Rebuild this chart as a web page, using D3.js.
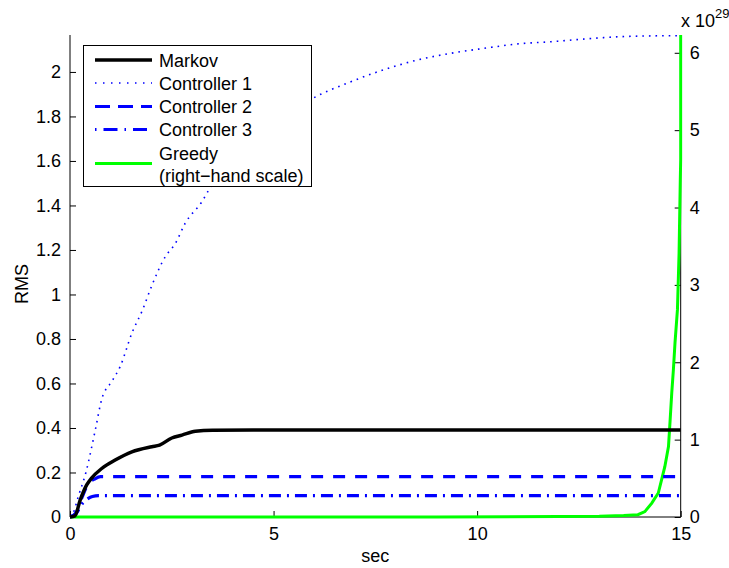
<!DOCTYPE html>
<html>
<head>
<meta charset="utf-8">
<script src="https://cdn.jsdelivr.net/npm/d3@7"></script>
<style>
  body { margin: 0; background: #fff; }
  text { font-family: "Liberation Sans", Arial, Helvetica, sans-serif; fill: #000; }
</style>
</head>
<body>
<div id="chart"></div>
<script>
// series (time in sec, RMS on left scale, greedy on right scale x 10^29)
const markovT = [0, 0.12, 0.25, 0.41, 0.53, 0.78, 1.11, 1.52, 2.01, 2.2, 2.5, 2.75, 3.08, 3.5, 4.5, 15];
const markovV = [0, 0.005, 0.076, 0.144, 0.175, 0.218, 0.256, 0.293, 0.316, 0.323, 0.355, 0.368, 0.385, 0.39, 0.391, 0.391];

const ctrl1T = [0, 0.08, 0.2, 0.39, 0.62, 0.78, 1.03, 1.23, 1.52, 1.78, 2.01, 2.34, 2.59, 2.83, 3.24, 3.41, 5.95, 6.9, 7.71, 8.54, 9.36, 10.17, 11.0, 11.82, 12.64, 13.46, 14.29, 15];
const ctrl1V = [0, 0.018, 0.09, 0.2, 0.39, 0.53, 0.61, 0.675, 0.826, 0.93, 1.04, 1.17, 1.23, 1.32, 1.417, 1.47, 1.88, 1.956, 2.01, 2.054, 2.084, 2.106, 2.126, 2.136, 2.148, 2.158, 2.162, 2.163];

const ctrl2T = [0, 0.15, 0.3, 0.45, 0.6, 0.75, 15];
const ctrl2V = [0, 0.02, 0.09, 0.15, 0.17, 0.181, 0.181];

const ctrl3T = [0, 0.15, 0.3, 0.45, 0.55, 0.7, 15];
const ctrl3V = [0, 0.015, 0.06, 0.084, 0.092, 0.096, 0.096];

const greedyT = [0, 9, 12, 13, 13.6, 13.95, 14.12, 14.29, 14.45, 14.53, 14.61, 14.7, 14.74, 14.78, 14.82, 14.86, 14.92, 14.96, 14.99, 15, 15];
const greedyV = [0, 0, 0.005, 0.01, 0.02, 0.03, 0.07, 0.18, 0.31, 0.48, 0.65, 0.91, 1.25, 1.6, 1.9, 2.25, 2.68, 3.41, 4.36, 4.62, 6.3];

// ticks
const xTicks = [0, 5, 10, 15];
const yTicks = [0, 0.2, 0.4, 0.6, 0.8, 1, 1.2, 1.4, 1.6, 1.8, 2];
const y2Ticks = [0, 1, 2, 3, 4, 5, 6];

const legendLabels = ['Markov', 'Controller 1', 'Controller 2', 'Controller 3', 'Greedy'];

const W = 729, H = 568;
const mLeft = 70, mRight = 680.7, mTop = 35, mBottom = 517;

const svg = d3.select('#chart').append('svg')
    .attr('width', W)
    .attr('height', H);

const x = d3.scaleLinear().domain([0, 15]).range([mLeft, mRight]);
const y = d3.scaleLinear().domain([0, 2.166]).range([mBottom, mTop]);
const y2 = d3.scaleLinear().domain([0, 6.23]).range([mBottom, mTop]);

// axes first, lines are drawn on top of them
const xAxis = d3.axisBottom(x).tickValues(xTicks).tickSize(-6).tickPadding(10).tickFormat(d3.format('d'));
const yAxis = d3.axisLeft(y).tickValues(yTicks).tickSize(-6).tickPadding(9).tickFormat(d => d === 0 ? '0' : d3.format('.1~f')(d));
const y2Axis = d3.axisRight(y2).tickValues(y2Ticks).tickSize(-6).tickPadding(9).tickFormat(d3.format('d'));

function styleAxis(g) {
    g.select('.domain').attr('stroke', '#000').attr('stroke-width', 1);
    g.selectAll('.tick line').attr('stroke', '#000');
    g.selectAll('.tick text').style('font-size', '18px').attr('fill', '#000');
}

svg.append('g').attr('transform', `translate(0,${mBottom})`).call(xAxis).call(styleAxis)
    .call(g => g.select('.domain').attr('d', `M${mLeft},0H${mRight}`));
svg.append('g').attr('transform', `translate(${mLeft},0)`).call(yAxis).call(styleAxis)
    .call(g => g.select('.domain').attr('d', `M0,${mBottom}V${mTop}`));
svg.append('g').attr('transform', `translate(${mRight},0)`).call(y2Axis).call(styleAxis)
    .call(g => g.select('.domain').attr('d', `M0,${mBottom}V${mTop}`));

svg.append('clipPath').attr('id', 'clip')
    .append('rect')
    .attr('x', mLeft).attr('y', mTop)
    .attr('width', mRight - mLeft + 2).attr('height', mBottom - mTop + 2);

const plot = svg.append('g').attr('clip-path', 'url(#clip)');

function drawSeries(ts, vs, scale, color, width, dash) {
    const pts = ts.map((t, i) => [t, vs[i]]);
    const line = d3.line().x(d => x(d[0])).y(d => scale(d[1])).curve(d3.curveMonotoneX);
    plot.append('path')
        .datum(pts)
        .attr('d', line)
        .attr('fill', 'none')
        .attr('stroke', color)
        .attr('stroke-width', width)
        .attr('stroke-dasharray', dash)
        .attr('stroke-linejoin', 'round');
}

// greedy uses a linear curve because of the steep steps at the end
function drawGreedy() {
    const pts = greedyT.map((t, i) => [t, greedyV[i]]);
    plot.append('path')
        .datum(pts)
        .attr('d', d3.line().x(d => x(d[0])).y(d => y2(d[1])))
        .attr('fill', 'none')
        .attr('stroke', '#00ff00')
        .attr('stroke-width', 3);
}

drawGreedy();
drawSeries(ctrl1T, ctrl1V, y, '#0000ff', 1.6, '1.6,5');
drawSeries(ctrl3T, ctrl3V, y, '#0000ff', 3.2, '12,6,2,6');
drawSeries(ctrl2T, ctrl2V, y, '#0000ff', 3.2, '12,10');
drawSeries(markovT, markovV, y, '#000000', 3.5, null);

// labels
svg.append('text')
    .attr('x', (mLeft + mRight) / 2).attr('y', 562)
    .attr('text-anchor', 'middle')
    .style('font-size', '18px')
    .text('sec');

svg.append('text')
    .attr('transform', 'translate(28,284) rotate(-90)')
    .attr('text-anchor', 'middle')
    .style('font-size', '18px')
    .text('RMS');

const expo = svg.append('text')
    .attr('x', 681).attr('y', 27)
    .style('font-size', '18px');
expo.append('tspan').text('x 10');
expo.append('tspan').attr('dy', -9).style('font-size', '13px').text('29');

// legend
const lg = svg.append('g');
lg.append('rect')
    .attr('x', 83.5).attr('y', 45.5)
    .attr('width', 228).attr('height', 141)
    .attr('fill', '#fff')
    .attr('stroke', '#000')
    .attr('stroke-width', 1);

const legendItems = [
    { label: legendLabels[0], y: 60, color: '#000', width: 3.5, dash: null },
    { label: legendLabels[1], y: 83, color: '#0000ff', width: 1.5, dash: '1.5,6.5' },
    { label: legendLabels[2], y: 106.5, color: '#0000ff', width: 3.2, dash: '15,8' },
    { label: legendLabels[3], y: 129.5, color: '#0000ff', width: 3.2, dash: '1.5,7,14,7' },
    { label: legendLabels[4], y: 163.5, color: '#00ff00', width: 3.2, dash: null }
];

legendItems.forEach(it => {
    lg.append('line')
        .attr('x1', 95).attr('x2', 152)
        .attr('y1', it.y).attr('y2', it.y)
        .attr('stroke', it.color)
        .attr('stroke-width', it.width)
        .attr('stroke-dasharray', it.dash);
});

lg.selectAll('text.lab')
    .data(legendItems.slice(0, 4))
    .enter().append('text')
    .attr('x', 159)
    .attr('y', d => d.y + 6.5)
    .style('font-size', '18px')
    .text(d => d.label);

lg.append('text').attr('x', 159).attr('y', 159.5).style('font-size', '18px').text('Greedy');
lg.append('text').attr('x', 159).attr('y', 182).style('font-size', '18px').text('(right\u2212hand scale)');
</script>
</body>
</html>
